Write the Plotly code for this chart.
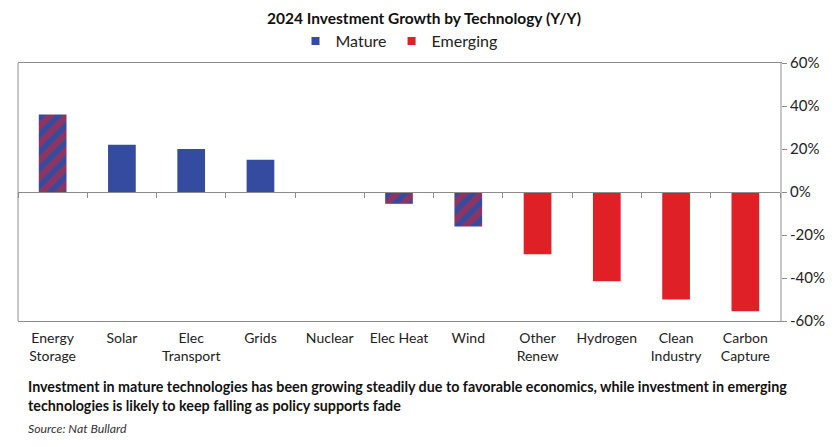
import plotly.graph_objects as go

# Data
categories = ["Energy<br>Storage", "Solar", "Elec<br>Transport", "Grids", "Nuclear", "Elec Heat",
              "Wind", "Other<br>Renew", "Hydrogen", "Clean<br>Industry", "Carbon<br>Capture"]
growth_pct = [36, 22, 20, 15, 0, -5.5, -16, -29, -41.5, -50, -55.5]
group = ["Mixed", "Mature", "Mature", "Mature", "Mature", "Mixed",
         "Mixed", "Emerging", "Emerging", "Emerging", "Emerging"]
y_ticks = [-60, -40, -20, 0, 20, 40, 60]

BLUE = "#354B9F"
RED = "#DF2027"
FONT = "Lato"


def pick(name):
    """Return x/y for a single group, keeping category order."""
    xs = [c for c, g in zip(categories, group) if g == name]
    ys = [v for v, g in zip(growth_pct, group) if g == name]
    return xs, ys


fig = go.Figure()

x, y = pick("Mature")
fig.add_trace(go.Bar(x=x, y=y, name="Mature", showlegend=False,
                     marker=dict(color=BLUE, line_width=0)))

x, y = pick("Emerging")
fig.add_trace(go.Bar(x=x, y=y, name="Emerging", showlegend=False,
                     marker=dict(color=RED, line_width=0)))

# Technologies with both mature and emerging parts get striped bars
x, y = pick("Mixed")
fig.add_trace(go.Bar(
    x=x, y=y, name="Mixed", showlegend=False,
    marker=dict(color=BLUE, line_width=0,
                pattern=dict(shape="/", fgcolor=RED, bgcolor=BLUE, size=12, solidity=0.55)),
))

# small square legend keys, like the original
for name, color in [("Mature", BLUE), ("Emerging", RED)]:
    fig.add_trace(go.Scatter(x=[None], y=[None], mode="markers", name=name,
                             marker=dict(symbol="square", size=8, color=color)))

# empty trace so the zero-line tick axis gets drawn
fig.add_trace(go.Scatter(x=[], y=[], xaxis="x2", yaxis="y", showlegend=False, hoverinfo="skip"))

# page body has an 8px margin, so the figure is sized to fit the window
fig.update_layout(
    width=832,
    height=439,
    margin=dict(l=10, r=60, t=55, b=126, autoexpand=False),
    paper_bgcolor="white",
    plot_bgcolor="white",
    font=dict(family=FONT, size=14, color="#222222"),
    barmode="overlay",
    bargap=0.6,
    title=dict(
        text="<b>2024 Investment Growth by Technology (Y/Y)</b>",
        x=0.5, xanchor="center", y=0.975, yanchor="middle",
        font=dict(family=FONT, size=15.5, color="#111111"),
    ),
    legend=dict(
        orientation="h",
        x=0.5, xanchor="center",
        y=1.085, yanchor="middle",
        font=dict(family=FONT, size=16, color="#222222"),
        itemwidth=30,
        tracegroupgap=0,
    ),
    xaxis=dict(
        categoryorder="array",
        categoryarray=categories,
        showline=True,
        mirror=True,
        linecolor="#8c8c8c",
        linewidth=1,
        ticks="",
        ticklabelstandoff=4,
        showgrid=False,
        tickfont=dict(family=FONT, size=14, color="#222222"),
    ),
    xaxis2=dict(
        overlaying="x",
        anchor="free",
        position=0.5,
        range=[-0.5, len(categories) - 0.5],
        tickvals=[i - 0.5 for i in range(len(categories) + 1)],
        ticks="outside",
        ticklen=5,
        tickcolor="#8c8c8c",
        showticklabels=False,
        showline=True,
        linecolor="#8c8c8c",
        showgrid=False,
        zeroline=False,
    ),
    yaxis=dict(
        side="right",
        range=[-60, 60],
        tickvals=y_ticks,
        ticktext=[f"{v}%" for v in y_ticks],
        ticks="outside",
        ticklen=5,
        tickcolor="#8c8c8c",
        showline=True,
        linecolor="#c8c8c8",
        linewidth=2,
        showgrid=False,
        zeroline=False,
        tickfont=dict(family=FONT, size=15, color="#222222"),
    ),
    shapes=[
        dict(type="line", xref="x domain", yref="y domain", x0=0, x1=0, y0=0, y1=1,
             line=dict(color="#8c8c8c", width=1), layer="below"),
    ],
    annotations=[
        dict(
            text="<b>Investment in mature technologies has been growing steadily due to favorable economics, "
                 "while investment in emerging<br>technologies is likely to keep falling as policy supports fade</b>",
            xref="paper", yref="paper", x=0.01, y=-0.215, xanchor="left", yanchor="top",
            align="left", showarrow=False,
            font=dict(family=FONT, size=14.3, color="#111111"),
        ),
        dict(
            text="<i>Source: Nat Bullard</i>",
            xref="paper", yref="paper", x=0.01, y=-0.38, xanchor="left", yanchor="top",
            align="left", showarrow=False,
            font=dict(family=FONT, size=12.3, color="#333333"),
        ),
    ],
)

fig.write_html("out.html")
